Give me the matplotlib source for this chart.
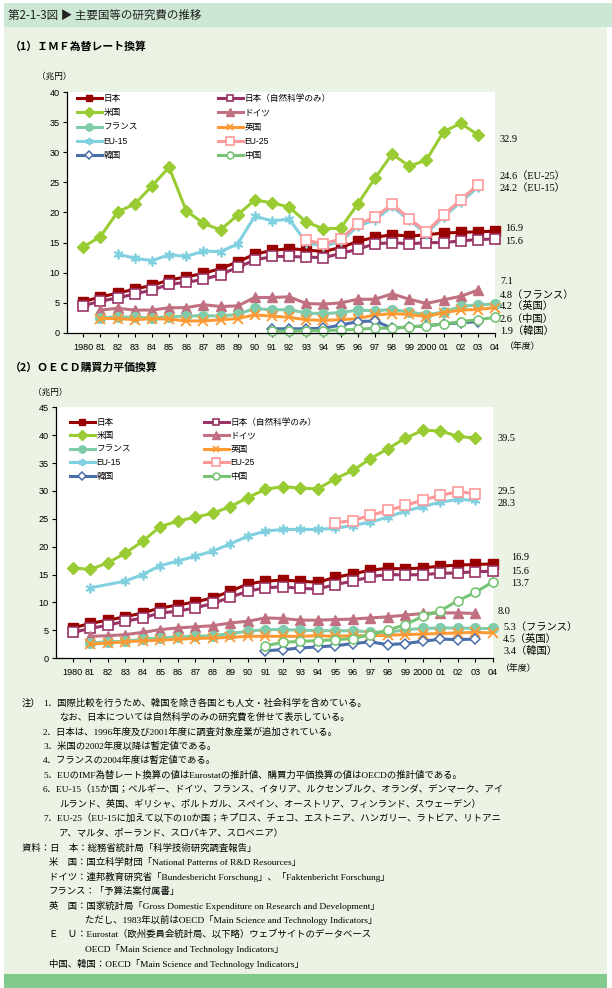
import numpy as np
import matplotlib
matplotlib.use("Agg")
import matplotlib.pyplot as plt
from matplotlib.patches import Rectangle

plt.rcParams['font.family'] = ['Liberation Sans', 'Noto Sans CJK JP', 'DejaVu Sans']

# ------------------------------------------------------------------ data

years = list(range(1980, 2005))
year_labels = ['1980'] + ['%02d' % (y % 100) for y in range(1981, 2000)] + ['2000', '01', '02', '03', '04']

names = ['日本', '日本（自然科学のみ）', '米国', 'ドイツ', 'フランス', '英国', 'EU-15', 'EU-25', '韓国', '中国']

# (1) IMF exchange rate (trillion yen)
imf_jp = [5.2, 6.0, 6.6, 7.3, 7.9, 8.8, 9.3, 9.9, 10.7, 11.8, 13.1, 13.7, 14.0, 13.8, 13.5, 14.2, 15.2, 15.9, 16.3, 16.1, 16.3, 16.6, 16.7, 16.8, 16.9]
imf_jp_ns = [4.5, 5.3, 5.8, 6.5, 7.1, 8.1, 8.4, 8.9, 9.7, 10.9, 12.1, 12.7, 12.7, 12.6, 12.5, 13.2, 13.9, 14.8, 15.0, 14.8, 15.0, 15.0, 15.3, 15.5, 15.6]
imf_us = [14.3, 16.0, 20.1, 21.4, 24.4, 27.5, 20.3, 18.2, 17.1, 19.6, 22.1, 21.6, 20.9, 18.4, 17.3, 17.4, 21.4, 25.7, 29.7, 27.7, 28.7, 33.4, 34.8, 32.9, None]
imf_de = [None, 3.8, 4.1, 3.8, 3.8, 4.2, 4.2, 4.7, 4.4, 4.5, 5.9, 5.9, 6.0, 4.9, 4.8, 5.0, 5.6, 5.6, 6.5, 5.6, 4.9, 5.5, 6.1, 7.1, None]
imf_fr = [None, 2.5, 2.7, 2.6, 2.5, 2.7, 2.8, 2.9, 2.8, 3.1, 4.1, 3.8, 3.9, 3.3, 3.2, 3.4, 3.8, 3.7, 3.9, 3.5, 3.0, 3.5, 4.4, 4.7, 4.8]
imf_uk = [None, 2.4, 2.4, 2.2, 2.4, 2.3, 2.0, 2.0, 2.2, 2.4, 3.0, 2.8, 2.6, 2.2, 2.1, 2.2, 2.4, 3.0, 3.2, 3.1, 2.7, 3.4, 3.8, 3.9, 4.2]
imf_eu15 = [None, None, 13.1, 12.4, 12.0, 13.0, 12.7, 13.6, 13.5, 14.8, 19.4, 18.6, 18.9, 15.0, 14.4, 15.2, 17.7, 18.8, 21.0, 18.7, 16.5, 19.3, 21.7, 24.2, None]
imf_eu25 = [None] * 13 + [15.4, 14.8, 15.6, 18.1, 19.2, 21.4, 19.0, 16.8, 19.6, 22.1, 24.6, None]
imf_kr = [None] * 11 + [0.7, 0.7, 0.7, 0.8, 1.3, 1.9, 2.0, 0.8, 1.0, 1.2, 1.5, 1.7, 1.9, None]
imf_cn = [None] * 11 + [0.3, 0.3, 0.4, 0.4, 0.5, 0.6, 0.8, 0.8, 1.0, 1.2, 1.5, 1.9, 2.2, 2.6]

# (2) OECD purchasing power parity (trillion yen)
ppp_jp = [5.4, 6.2, 6.8, 7.4, 8.1, 9.0, 9.5, 10.1, 10.8, 12.0, 13.3, 13.8, 14.0, 13.8, 13.6, 14.5, 15.1, 15.8, 16.1, 16.0, 16.2, 16.5, 16.7, 16.8, 16.9]
ppp_jp_ns = [4.6, 5.3, 5.9, 6.6, 7.2, 8.1, 8.4, 9.0, 9.8, 10.9, 12.0, 12.6, 12.8, 12.5, 12.4, 13.2, 13.8, 14.6, 15.0, 14.9, 15.0, 15.2, 15.3, 15.5, 15.6]
ppp_us = [16.2, 15.9, 17.1, 18.8, 21.0, 23.6, 24.6, 25.3, 26.0, 27.2, 28.8, 30.3, 30.8, 30.5, 30.4, 32.2, 33.7, 35.8, 37.6, 39.5, 40.9, 40.8, 39.8, 39.5, None]
ppp_de = [None, 3.9, 4.0, 4.2, 4.6, 5.1, 5.4, 5.6, 5.8, 6.3, 6.6, 7.2, 7.1, 6.8, 6.8, 6.9, 7.0, 7.2, 7.4, 7.7, 8.0, 8.1, 8.1, 8.0, None]
ppp_fr = [None, 2.7, 2.9, 3.0, 3.4, 3.6, 3.8, 3.9, 4.0, 4.4, 4.8, 5.1, 5.1, 5.0, 4.9, 4.9, 4.9, 4.7, 4.6, 5.1, 5.3, 5.4, 5.4, 5.3, 5.3]
ppp_uk = [None, 2.5, 2.7, 2.9, 3.1, 3.2, 3.4, 3.5, 3.6, 3.7, 3.9, 3.9, 3.9, 3.9, 4.0, 3.9, 4.0, 4.0, 4.1, 4.2, 4.3, 4.4, 4.5, 4.6, 4.5]
ppp_eu15 = [None, 12.6, None, 13.8, 15.0, 16.6, 17.4, 18.3, 19.2, 20.5, 21.9, 22.8, 23.1, 23.1, 23.1, 23.3, 23.8, 24.4, 25.3, 26.4, 27.2, 28.0, 28.5, 28.3, None]
ppp_eu25 = [None] * 15 + [24.3, 24.7, 25.6, 26.5, 27.4, 28.4, 29.2, 29.9, 29.5, None]
ppp_kr = [None] * 11 + [1.3, 1.5, 1.8, 2.0, 2.2, 2.6, 2.9, 2.4, 2.6, 3.0, 3.4, 3.3, 3.4, None]
ppp_cn = [None] * 11 + [2.2, 2.8, 3.0, 3.1, 3.3, 3.5, 4.2, 5.0, 6.0, 7.5, 8.5, 10.3, 11.8, 13.7]

imf_series = [imf_jp, imf_jp_ns, imf_us, imf_de, imf_fr, imf_uk, imf_eu15, imf_eu25, imf_kr, imf_cn]
ppp_series = [ppp_jp, ppp_jp_ns, ppp_us, ppp_de, ppp_fr, ppp_uk, ppp_eu15, ppp_eu25, ppp_kr, ppp_cn]

imf_end_labels = ['32.9', '24.6（EU-25）', '24.2（EU-15）', '16.9', '15.6', '7.1',
                  '4.8（フランス）', '4.2（英国）', '2.6（中国）', '1.9（韓国）']
ppp_end_labels = ['39.5', '29.5', '28.3', '16.9', '15.6', '13.7', '8.0',
                  '5.3（フランス）', '4.5（英国）', '3.4（韓国）']

notes = [
    ('注）', 22, 703),
    ('1．国際比較を行うため、韓国を除き各国とも人文・社会科学を含めている。', 43, 703),
    ('なお、日本については自然科学のみの研究費を併せて表示している。', 59, 717),
    ('2．日本は、1996年度及び2001年度に調査対象産業が追加されている。', 43, 732),
    ('3．米国の2002年度以降は暫定値である。', 43, 746),
    ('4．フランスの2004年度は暫定値である。', 43, 760),
    ('5．EUのIMF為替レート換算の値はEurostatの推計値、購買力平価換算の値はOECDの推計値である。', 43, 775),
    ('6．EU-15（15か国；ベルギー、ドイツ、フランス、イタリア、ルクセンブルク、オランダ、デンマーク、アイ', 43, 789),
    ('ルランド、英国、ギリシャ、ポルトガル、スペイン、オーストリア、フィンランド、スウェーデン）', 59, 804),
    ('7．EU-25（EU-15に加えて以下の10か国；キプロス、チェコ、エストニア、ハンガリー、ラトビア、リトアニ', 43, 818),
    ('ア、マルタ、ポーランド、スロバキア、スロベニア）', 59, 833),
    ('資料：日　本：総務省統計局「科学技術研究調査報告」', 22, 848),
    ('米　国：国立科学財団「National Patterns of R&D Resources」', 49, 862),
    ('ドイツ：連邦教育研究省「Bundesbericht Forschung」、「Faktenbericht Forschung」', 49, 877),
    ('フランス：「予算法案付属書」', 49, 891),
    ('英　国：国家統計局「Gross Domestic Expenditure on Research and Development」', 49, 906),
    ('ただし、1983年以前はOECD「Main Science and Technology Indicators」', 85, 920),
    ('Ｅ　Ｕ：Eurostat（欧州委員会統計局、以下略）ウェブサイトのデータベース', 49, 934),
    ('OECD「Main Science and Technology Indicators」', 85, 949),
    ('中国、韓国：OECD「Main Science and Technology Indicators」', 49, 964),
]

# ------------------------------------------------------------------ styles

W, H = 612, 988
styles = [
    dict(color='#990000', marker='s', mfc='#990000', mec='#990000', ms=6.5),
    dict(color='#993366', marker='s', mfc='white', mec='#993366', ms=6.5, mew=1.2),
    dict(color='#99CC33', marker='D', mfc='#99CC33', mec='#99CC33', ms=6.5),
    dict(color='#C07080', marker='^', mfc='#C07080', mec='#C07080', ms=7),
    dict(color='#80CCAA', marker='o', mfc='#80CCAA', mec='#80CCAA', ms=7),
    dict(color='#FF9933', marker='x', mfc='#FF9933', mec='#FF9933', ms=6.5, mew=1.3),
    dict(color='#80D0E0', marker=(6, 2, 0), mfc='#80D0E0', mec='#80D0E0', ms=7, mew=1.3),
    dict(color='#FF9999', marker='s', mfc='white', mec='#FF9999', ms=7, mew=1.2),
    dict(color='#4A6FAA', marker='D', mfc='white', mec='#4A6FAA', ms=5, mew=1.1),
    dict(color='#77C477', marker='o', mfc='white', mec='#77C477', ms=6.5, mew=1.2),
]


def fx(x):
    return x / W


def fy(y):
    return 1 - y / H


fig = plt.figure(figsize=(W / 100, H / 100), dpi=100)
fig.patch.set_facecolor('white')
fig.patches.append(Rectangle((fx(4), fy(988)), fx(603), 985 / H, transform=fig.transFigure,
                             facecolor='#EBF3E4', edgecolor='none', zorder=-10))
fig.patches.append(Rectangle((fx(4), fy(27)), fx(608), 24 / H, transform=fig.transFigure,
                             facecolor='#CCE7D3', edgecolor='none', zorder=-9))
fig.patches.append(Rectangle((fx(4), fy(988)), fx(603), 14 / H, transform=fig.transFigure,
                             facecolor='#82C98E', edgecolor='none', zorder=-9))

jp_font = ['Noto Sans CJK JP', 'DejaVu Sans']
serif_font = ['Liberation Serif', 'Noto Sans CJK JP']

fig.text(fx(8), fy(15), '第2-1-3図 ▶ 主要国等の研究費の推移', fontsize=8.3, va='center', family=jp_font, color='#222222')
fig.text(fx(10), fy(47), '（1）ＩＭＦ為替レート換算', fontsize=7.8, va='center', family=jp_font, weight='bold')
fig.text(fx(10), fy(367), '（2）ＯＥＣＤ購買力平価換算', fontsize=7.8, va='center', family=jp_font, weight='bold')


def draw_panel(rect, series, ymax, leg1, leg2, leg_dy, unit_pos):
    ax = fig.add_axes(rect)
    ax.set_facecolor('white')
    lines = []
    for vals, st, name in zip(series, styles, names):
        v = np.array([np.nan if a is None else a for a in vals], dtype=float)
        ok = np.isfinite(v)
        ln, = ax.plot(np.array(years)[ok], v[ok], lw=2.2, label=name, clip_on=False, **st)
        lines.append(ln)
    ax.set_xlim(1979.05, 2004)
    ax.set_ylim(0, ymax)
    ax.set_xticks(years)
    ax.set_xticklabels(year_labels, fontsize=6.6)
    ax.set_yticks(np.arange(0, ymax + 1, 5))
    ax.tick_params(axis='both', direction='out', length=3, width=0.8, labelsize=6.6, pad=2)
    ax.tick_params(axis='x', pad=4)
    for s in ['top', 'right']:
        ax.spines[s].set_visible(False)
    for s in ['left', 'bottom']:
        ax.spines[s].set_linewidth(0.9)
    col1 = [lines[i] for i in (0, 2, 4, 6, 8)]
    col2 = [lines[i] for i in (1, 3, 5, 7, 9)]
    for cols, pos in ((col1, leg1), (col2, leg2)):
        fig.legend(cols, [l.get_label() for l in cols], loc='upper left',
                   bbox_to_anchor=(fx(pos[0]), fy(pos[1])), frameon=False,
                   fontsize=6.2, handlelength=2.9, handletextpad=0.15,
                   borderpad=0, borderaxespad=0, labelspacing=leg_dy, markerscale=0.75)
    fig.text(fx(unit_pos[0]), fy(unit_pos[1]), '（兆円）', fontsize=6.2, va='center', family=jp_font)
    return ax


draw_panel([fx(67), fy(333), fx(495 - 67), (333 - 92) / H], imf_series, 40,
           (77, 94), (218, 94), 0.62, (37, 76))
draw_panel([fx(56), fy(658), fx(493 - 56), (658 - 407.5) / H], ppp_series, 45,
           (70, 418), (204, 418), 0.52, (33, 392))

imf_label_pos = [(500, 140), (500, 176), (500, 188), (505, 228), (505, 241), (500, 282),
                 (500, 295), (500, 306), (500, 319), (500, 331)]
ppp_label_pos = [(498, 438), (498, 491), (498, 503), (511, 558), (511, 571), (511, 583),
                 (498, 611), (503, 627), (503, 639), (503, 651)]
for txt, (x, y) in zip(imf_end_labels, imf_label_pos):
    fig.text(fx(x), fy(y), txt, fontsize=7.4, va='center', family=serif_font)
for txt, (x, y) in zip(ppp_end_labels, ppp_label_pos):
    fig.text(fx(x), fy(y), txt, fontsize=7.4, va='center', family=serif_font)
fig.text(fx(505), fy(347), '（年度）', fontsize=6.4, va='center', family=jp_font)
fig.text(fx(501), fy(669), '（年度）', fontsize=6.4, va='center', family=jp_font)

for txt, x, y in notes:
    fig.text(fx(x), fy(y), txt, fontsize=6.75, va='center', family=serif_font)

fig.savefig('out.png', dpi=100)
